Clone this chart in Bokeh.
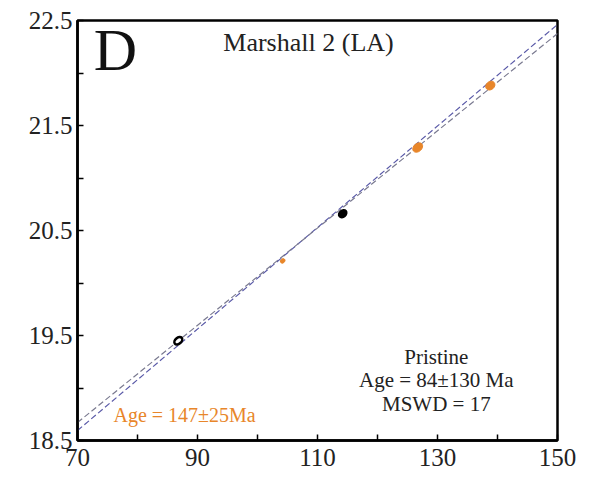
from bokeh.plotting import figure
from bokeh.models import Label, FixedTicker, Range1d
from bokeh.embed import file_html
from bokeh.resources import INLINE

# ---- data ----
pristine_x = [86.8, 114.2]
pristine_y = [19.45, 20.66]
altered_x = [104.2, 126.7, 138.8]
altered_y = [20.21, 21.29, 21.88]
# error-ellipse sizes (screen px)
pristine_w = [9, 8]
pristine_h = [6, 6]
pristine_fill = ["white", "black"]
altered_w = [5, 11, 10]
altered_h = [4, 8, 8]

# regression lines (endpoints at x = 70 and 150)
altered_line_x = [70, 150]
altered_line_y = [18.595, 22.462]
pristine_line_x = [70, 150]
pristine_line_y = [18.671, 22.376]

x_ticks = [70, 90, 110, 130, 150]
x_minor = [80, 100, 120, 140]
y_ticks = [18.5, 19.5, 20.5, 21.5, 22.5]
y_minor = [19, 20, 21, 22]

ORANGE = "#E8862A"
SERIF = "Liberation Serif"

p = figure(width=597, height=483, output_backend="svg", toolbar_location=None,
           x_range=Range1d(70, 150), y_range=Range1d(18.5, 22.5),
           min_border_left=77, min_border_right=40, min_border_top=20, min_border_bottom=43)
p.background_fill_color = "white"
p.border_fill_color = "white"
p.xgrid.visible = False
p.ygrid.visible = False
p.outline_line_color = "black"
p.outline_line_width = 2.5

for ax in (p.xaxis[0], p.yaxis[0]):
    ax.axis_line_color = "black"
    ax.axis_line_width = 2.5
    ax.major_tick_in = 6
    ax.major_tick_out = 0
    ax.minor_tick_in = 6
    ax.minor_tick_out = 0
    ax.major_tick_line_width = 1.5
    ax.minor_tick_line_width = 1.5
    ax.major_label_text_font = SERIF
    ax.major_label_text_font_size = "25px"
    ax.major_label_text_color = "#222222"

p.xaxis[0].ticker = FixedTicker(ticks=x_ticks, minor_ticks=x_minor)
p.yaxis[0].ticker = FixedTicker(ticks=y_ticks, minor_ticks=y_minor)
p.xaxis[0].major_label_standoff = 8
p.yaxis[0].major_label_standoff = 5

p.line(altered_line_x, altered_line_y, line_color="#5a5aa8", line_width=1.2, line_dash="6 3")
p.line(pristine_line_x, pristine_line_y, line_color="#7a7a90", line_width=1.2, line_dash="6 3")

p.ellipse(altered_x, altered_y, width=altered_w, height=altered_h, angle=0.7,
          width_units="screen", height_units="screen",
          fill_color=ORANGE, line_color=ORANGE, line_width=1)
p.ellipse(pristine_x, pristine_y, width=pristine_w, height=pristine_h, angle=0.7,
          width_units="screen", height_units="screen",
          fill_color=pristine_fill, line_color="black", line_width=2.5)

p.add_layout(Label(x=72.7, y=22.22, text="D", text_font=SERIF, text_font_size="60px",
                   text_color="#111111", text_baseline="alphabetic"))
p.add_layout(Label(x=108.5, y=22.29, text="Marshall 2 (LA)", text_font=SERIF,
                   text_font_size="26px", text_color="#222222", text_align="center",
                   text_baseline="alphabetic"))
for t, yy in zip(["Pristine", "Age = 84\u00b1130 Ma", "MSWD = 17"], [19.30, 19.075, 18.85]):
    p.add_layout(Label(x=129.8, y=yy, text=t, text_font=SERIF, text_font_size="21px",
                       text_color="#222222", text_align="center", text_baseline="alphabetic"))
p.add_layout(Label(x=76.0, y=18.74, text="Age = 147\u00b125Ma", text_font=SERIF,
                   text_font_size="20px", text_color=ORANGE, text_align="left",
                   text_baseline="alphabetic"))

open("out.html", "w").write(file_html(p, INLINE))
